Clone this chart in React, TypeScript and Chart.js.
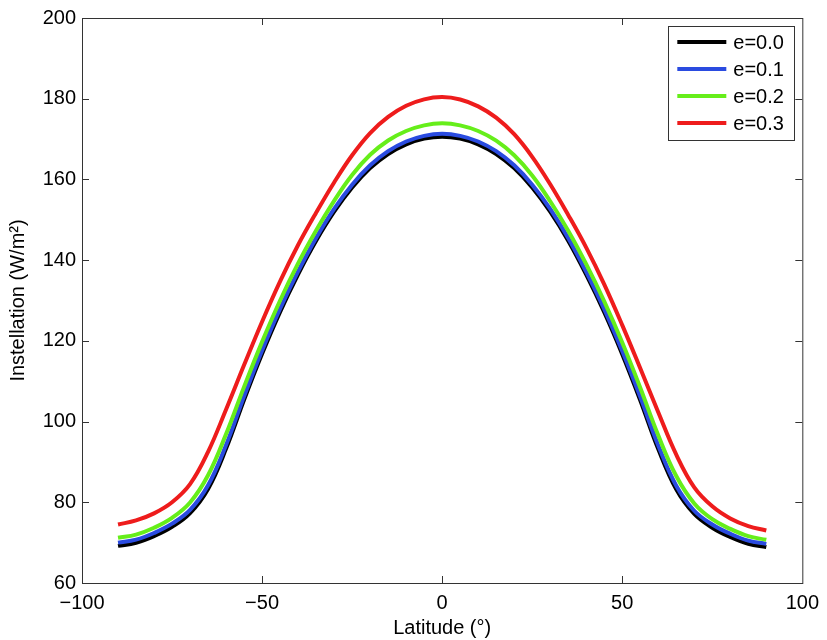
import { useEffect, useRef } from "react"
import { Chart, registerables, type ChartConfiguration, type Plugin } from "chart.js"

Chart.register(...registerables)

// latitude grid (degrees)
const LATITUDES = [
  -90, -85, -80, -75, -70, -65, -60, -55, -50, -45, -40, -35, -30, -25, -20, -15, -10, -5, 0,
  5, 10, 15, 20, 25, 30, 35, 40, 45, 50, 55, 60, 65, 70, 75, 80, 85, 90,
]

// annual mean instellation (W/m^2)
const E00 = [
  69.2, 69.95, 71.6, 73.9, 77.3, 83.3, 93.3, 105.4, 116.8, 127.2, 136.5, 144.8, 152.0, 158.0, 162.8, 166.3, 168.7, 170.1, 170.6,
  170.1, 168.7, 166.3, 162.8, 158.0, 152.0, 144.8, 136.4, 127.1, 116.7, 105.3, 93.2, 83.2, 77.1, 73.7, 71.4, 69.7, 68.9,
]
const E01 = [
  70.0, 70.75, 72.4, 74.7, 78.1, 84.2, 94.2, 106.25, 117.6, 127.95, 137.2, 145.5, 152.7, 158.7, 163.5, 167.0, 169.4, 170.8, 171.3,
  170.8, 169.4, 167.0, 163.5, 158.7, 152.7, 145.5, 137.1, 127.85, 117.5, 106.15, 94.1, 84.1, 77.9, 74.5, 72.2, 70.5, 69.7,
]
const E02 = [
  71.2, 72.0, 73.7, 76.15, 79.95, 86.7, 96.9, 108.6, 119.75, 130.0, 139.2, 147.35, 154.7, 161.1, 166.1, 169.65, 172.0, 173.4, 173.9,
  173.4, 172.0, 169.6, 166.0, 161.0, 154.6, 147.3, 139.0, 129.8, 119.6, 108.4, 96.6, 86.5, 79.7, 75.8, 73.4, 71.6, 70.7,
]
const E03 = [
  74.5, 75.5, 77.25, 80.0, 84.5, 92.5, 103.0, 114.0, 124.75, 134.75, 143.75, 151.75, 159.25, 166.0, 171.5, 175.5, 178.25, 179.85, 180.4,
  179.8, 178.1, 175.3, 171.2, 165.6, 158.8, 151.2, 143.1, 134.0, 123.9, 113.2, 102.3, 91.8, 83.7, 79.0, 76.0, 74.1, 73.0,
]

const SERIES_LABELS = ["e=0.0", "e=0.1", "e=0.2", "e=0.3"]
const SERIES_COLORS = ["#000000", "#2a4be0", "#66ee1a", "#ee1c1c"]

const FONT = "'Liberation Sans', Arial, Helvetica, sans-serif"

// MATLAB style box with inward ticks on all four sides
const framePlugin: Plugin = {
  id: "frame",
  afterDraw(chart) {
    const { ctx, chartArea: a, scales } = chart
    const tick = 7
    ctx.save()
    ctx.strokeStyle = "#333"
    ctx.lineWidth = 1
    ctx.strokeRect(a.left + 0.5, a.top + 0.5, a.right - a.left, a.bottom - a.top)
    ctx.beginPath()
    scales.x.ticks.forEach((t) => {
      const px = Math.round(scales.x.getPixelForValue(t.value)) + 0.5
      if (px <= a.left + 1 || px >= a.right - 1) return
      ctx.moveTo(px, a.bottom)
      ctx.lineTo(px, a.bottom - tick)
      ctx.moveTo(px, a.top)
      ctx.lineTo(px, a.top + tick)
    })
    scales.y.ticks.forEach((t) => {
      const py = Math.round(scales.y.getPixelForValue(t.value)) + 0.5
      if (py <= a.top + 1 || py >= a.bottom - 1) return
      ctx.moveTo(a.left, py)
      ctx.lineTo(a.left + tick, py)
      ctx.moveTo(a.right, py)
      ctx.lineTo(a.right - tick, py)
    })
    ctx.stroke()
    ctx.restore()
  },
}

// legend boxed in the upper right corner of the axes
const legendPlugin: Plugin = {
  id: "boxLegend",
  afterDraw(chart) {
    const { ctx, chartArea: a } = chart
    const w = 126
    const h = 114
    const x0 = a.right - 8 - w
    const y0 = a.top + 8
    ctx.save()
    ctx.fillStyle = "#fff"
    ctx.fillRect(x0, y0, w, h)
    ctx.strokeStyle = "#333"
    ctx.lineWidth = 1
    ctx.strokeRect(Math.round(x0) + 0.5, Math.round(y0) + 0.5, w, h)
    ctx.font = `20px ${FONT}`
    ctx.textBaseline = "middle"
    ctx.textAlign = "left"
    SERIES_LABELS.forEach((label, i) => {
      const y = y0 + 16 + i * 27
      ctx.strokeStyle = SERIES_COLORS[i]
      ctx.lineWidth = 4
      ctx.beginPath()
      ctx.moveTo(x0 + 9, y)
      ctx.lineTo(x0 + 58, y)
      ctx.stroke()
      ctx.fillStyle = "#000"
      ctx.fillText(label, x0 + 65, y + 1)
    })
    ctx.restore()
  },
}

export default function App() {
  const canvasRef = useRef<HTMLCanvasElement>(null)
  const chartRef = useRef<Chart | null>(null)

  useEffect(() => {
    if (!canvasRef.current) return
    if (chartRef.current) chartRef.current.destroy()

    const series = [E00, E01, E02, E03]
    const config: ChartConfiguration = {
      type: "line",
      data: {
        datasets: series.map((values, i) => ({
          label: SERIES_LABELS[i],
          data: LATITUDES.map((lat, j) => ({ x: lat, y: values[j] })),
          borderColor: SERIES_COLORS[i],
          backgroundColor: SERIES_COLORS[i],
          borderWidth: 4,
          pointRadius: 0,
          tension: 0.4,
          fill: false,
          order: 4 - i,
        })),
      },
      options: {
        responsive: false,
        animation: false,
        layout: { padding: { top: 13, right: 21, left: 0, bottom: 0 } },
        plugins: {
          legend: { display: false },
          tooltip: { enabled: false },
        },
        scales: {
          x: {
            type: "linear",
            min: -100,
            max: 100,
            grid: { display: false, drawTicks: false },
            border: { display: false },
            ticks: {
              stepSize: 50,
              padding: 8,
              color: "#000",
              font: { family: FONT, size: 20 },
              callback: (v) => String(v).replace("-", "\u2212"),
            },
            title: {
              display: true,
              text: "Latitude (°)",
              color: "#000",
              font: { family: FONT, size: 20 },
              padding: { top: 0, bottom: 0 },
            },
            afterFit: (scale) => {
              scale.height = 57
            },
          },
          y: {
            type: "linear",
            min: 60,
            max: 200,
            grid: { display: false, drawTicks: false },
            border: { display: false },
            ticks: {
              stepSize: 20,
              padding: 6,
              color: "#000",
              font: { family: FONT, size: 20 },
            },
            title: {
              display: true,
              text: "Instellation (W/m²)",
              color: "#000",
              font: { family: FONT, size: 20 },
              padding: { top: 6, bottom: 0 },
            },
            afterFit: (scale) => {
              scale.width = 82
            },
          },
        },
      },
      plugins: [framePlugin, legendPlugin],
    }

    chartRef.current = new Chart(canvasRef.current, config)
    return () => {
      if (chartRef.current) {
        chartRef.current.destroy()
        chartRef.current = null
      }
    }
  }, [])

  return (
    <div style={{ position: "absolute", left: 0, top: 0, width: 827, height: 640, background: "#fff" }}>
      <canvas ref={canvasRef} width={827} height={640} />
    </div>
  )
}
